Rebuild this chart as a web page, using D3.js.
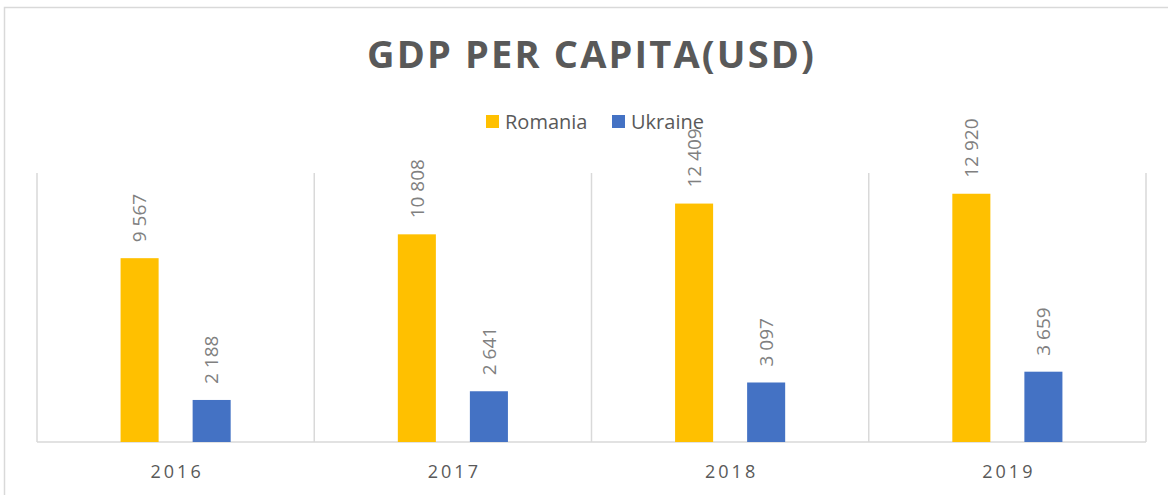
<!DOCTYPE html>
<html lang="en">
<head>
    <meta charset="UTF-8">
    <title>GDP per capita</title>
    <script src="https://d3js.org/d3.v7.min.js"></script>
    <style>
        body { margin: 0; background: #fff; }
        text { font-family: "Open Sans", Lato, sans-serif; }
        .title { fill: #595959; font-weight: bold; font-size: 38px; }
        .legend text { fill: #595959; font-size: 20px; }
        .year { fill: #595959; font-size: 18px; letter-spacing: 3px; }
        .val { fill: #808080; font-size: 19px; }
    </style>
</head>
<body>
    <svg width="1168" height="495"></svg>
    <script>
        var years = ["2016", "2017", "2018", "2019"];
        var series = ["Romania", "Ukraine"];
        var romania = [9567, 10808, 12409, 12920];
        var ukraine = [2188, 2641, 3097, 3659];
        var colors = ["#FFC000", "#4472C4"];

        var svg = d3.select("svg");

        // chart frame (runs off the right and bottom of the picture)
        svg.append("rect")
            .attr("x", 4.5).attr("y", 7.5)
            .attr("width", 1300).attr("height", 600)
            .attr("fill", "none").attr("stroke", "#d9d9d9").attr("stroke-width", 1.5);

        svg.append("text").attr("class", "title")
            .attr("x", 367).attr("y", 68)
            .attr("textLength", 447).attr("lengthAdjust", "spacing")
            .text("GDP PER CAPITA(USD)");

        var plotLeft = 37, plotRight = 1146, plotTop = 173, plotBottom = 442;

        var x0 = d3.scaleBand().domain(years).range([plotLeft, plotRight]).padding(0);
        var x1 = d3.scaleBand().domain(series).range([0, x0.bandwidth()])
            .paddingInner(0.472).paddingOuter(1.16);
        var y = d3.scaleLinear().domain([0, 14000]).range([plotBottom, plotTop]);
        var color = d3.scaleOrdinal().domain(series).range(colors);

        // vertical category separators
        var edges = years.map(function(d) { return x0(d); }).concat([plotRight]);
        svg.append("g").selectAll("line").data(edges).enter().append("line")
            .attr("x1", function(d) { return d; }).attr("x2", function(d) { return d; })
            .attr("y1", plotTop).attr("y2", plotBottom)
            .attr("stroke", "#d9d9d9").attr("stroke-width", 1.5);

        svg.append("line")
            .attr("x1", plotLeft).attr("x2", plotRight)
            .attr("y1", plotBottom).attr("y2", plotBottom)
            .attr("stroke", "#d9d9d9").attr("stroke-width", 1.5);

        var rows = [];
        years.forEach(function(yr, i) {
            rows.push({ year: yr, s: "Romania", v: romania[i] });
            rows.push({ year: yr, s: "Ukraine", v: ukraine[i] });
        });

        svg.append("g").selectAll("rect").data(rows).enter().append("rect")
            .attr("x", function(d) { return x0(d.year) + x1(d.s); })
            .attr("y", function(d) { return y(d.v); })
            .attr("width", x1.bandwidth())
            .attr("height", function(d) { return plotBottom - y(d.v); })
            .attr("fill", function(d) { return color(d.s); });

        var fmt = function(v) { return d3.format(",")(v).replace(",", " "); };
        svg.append("g").selectAll("text").data(rows).enter().append("text")
            .attr("class", "val")
            .attr("transform", function(d) {
                var cx = x0(d.year) + x1(d.s) + x1.bandwidth() / 2;
                return "translate(" + cx + "," + (y(d.v) - 16) + ") rotate(-90)";
            })
            .attr("dy", "0.36em")
            .text(function(d) { return fmt(d.v); });

        svg.append("g").selectAll("text").data(years).enter().append("text")
            .attr("class", "year")
            .attr("x", function(d) { return x0(d) + x0.bandwidth() / 2 + 1.5; })
            .attr("y", 478)
            .attr("text-anchor", "middle")
            .text(function(d) { return d; });

        // legend
        var legendX = [486, 612];
        var lg = svg.append("g").attr("class", "legend").selectAll("g").data(series).enter().append("g")
            .attr("transform", function(d, i) { return "translate(" + legendX[i] + ",115)"; });
        lg.append("rect").attr("width", 13).attr("height", 13)
            .attr("fill", function(d) { return color(d); });
        lg.append("text").attr("x", 19).attr("y", 14).text(function(d) { return d; });
    </script>
</body>
</html>
